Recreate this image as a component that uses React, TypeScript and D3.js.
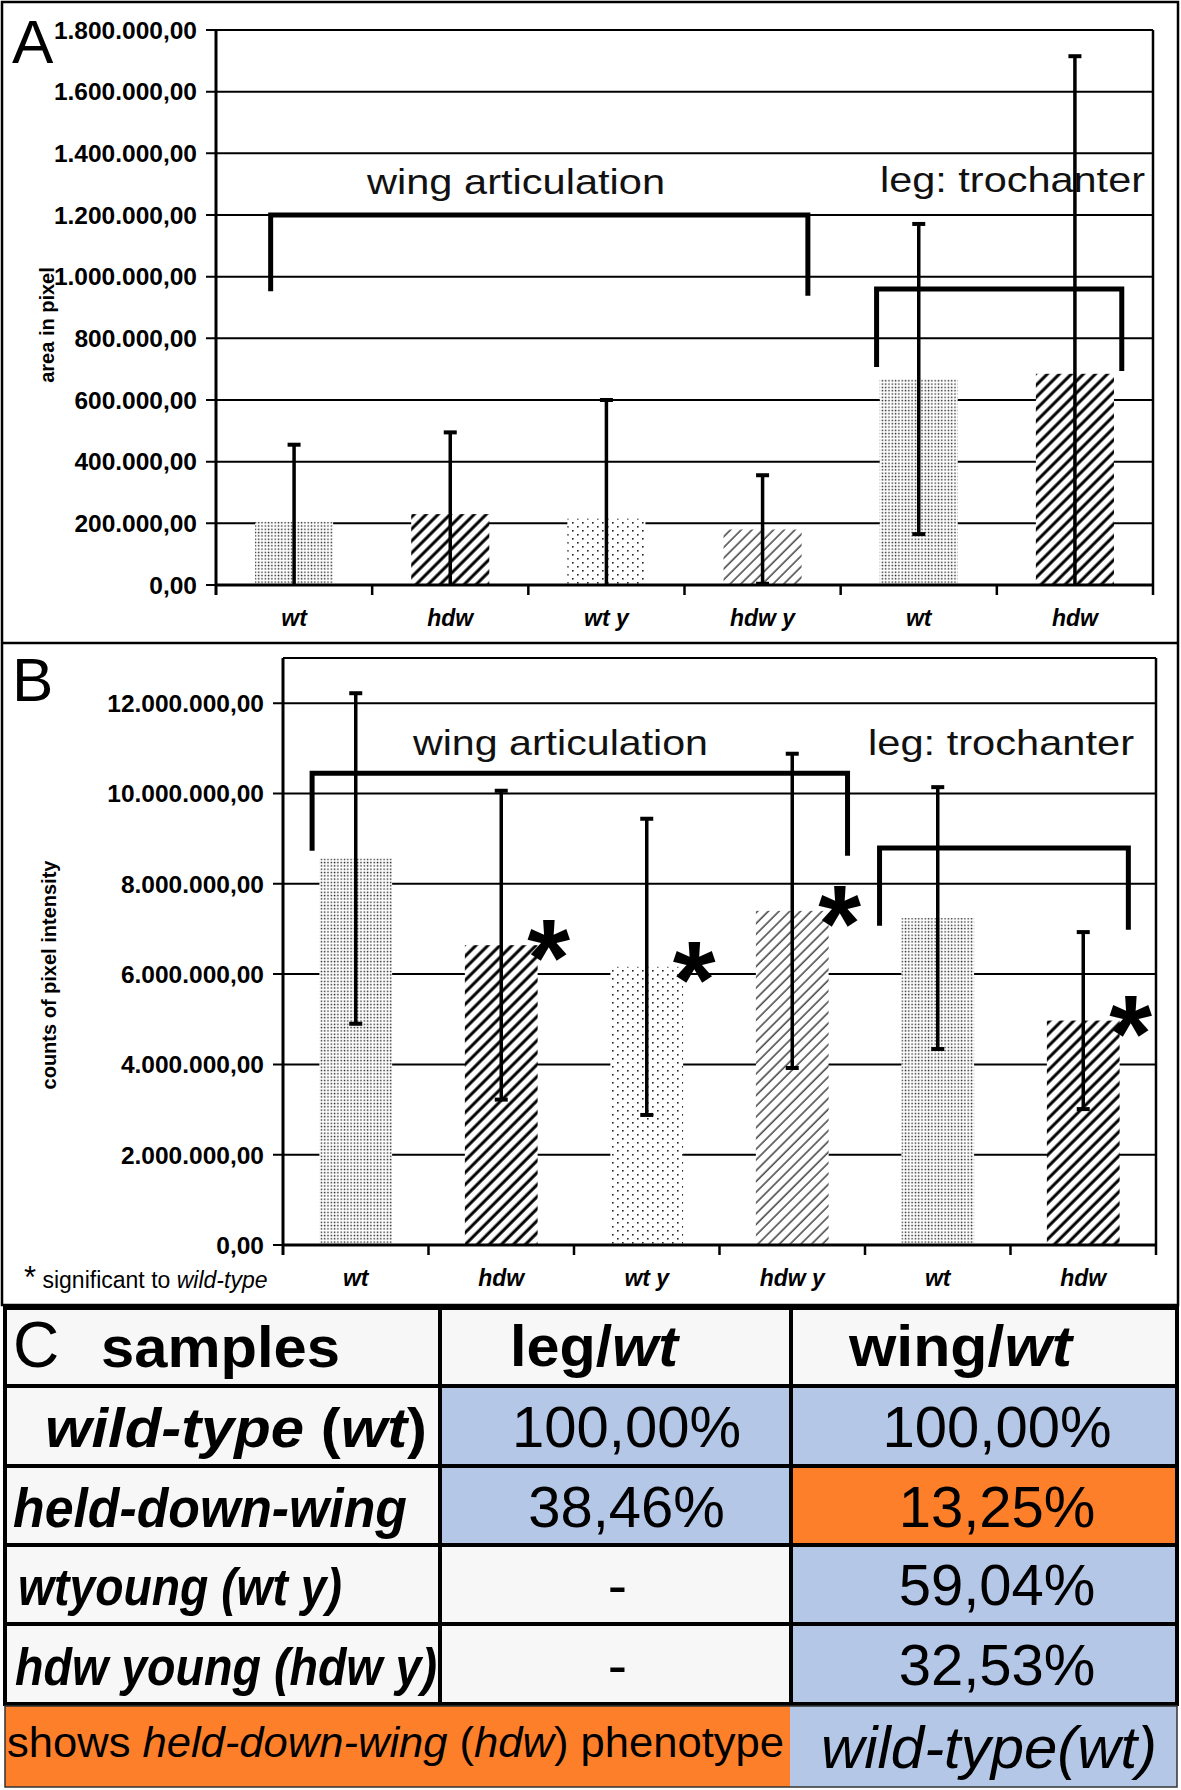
import React from 'react';
import * as d3 from 'd3';

// ---------- data ----------
const categories = ['wt', 'hdw', 'wt y', 'hdw y', 'wt', 'hdw'];
const fills = ['denseDots', 'thickHatch', 'sparseDots', 'thinHatch', 'denseDots', 'thickHatch'];

const areaMeans = [205000, 230000, 215000, 180000, 668000, 685000];
const areaErrors = [250000, 265000, 385000, 176000, 503000, 1030000];
const areaTicks = [0, 200000, 400000, 600000, 800000, 1000000, 1200000, 1400000, 1600000, 1800000];

const intensityMeans = [8560000, 6640000, 6160000, 7400000, 7240000, 4970000];
const intensityErrors = [3660000, 3420000, 3280000, 3480000, 2900000, 1960000];
const intensityTicks = [0, 2000000, 4000000, 6000000, 8000000, 10000000, 12000000];
const intensitySignificant = [false, true, true, true, false, true];

// brackets: x in category units (0..6), y in data units
const areaBrackets = [
  { label: 'wing articulation', x0: 0.35, x1: 3.79, top: 1200000, y0: 953000, y1: 938000 },
  { label: 'leg: trochanter', x0: 4.23, x1: 5.8, top: 960000, y0: 707000, y1: 694000 },
];
const intensityBrackets = [
  { label: 'wing articulation', x0: 0.2, x1: 3.88, top: 10450000, y0: 8730000, y1: 8620000 },
  { label: 'leg: trochanter', x0: 4.1, x1: 5.81, top: 8790000, y0: 7070000, y1: 6980000 },
];

const tableHeaders = ['samples', 'leg/wt', 'wing/wt'];
const sampleNames = ['wild-type (wt)', 'held-down-wing', 'wtyoung (wt y)', 'hdw young (hdw y)'];
const legRatios = ['100,00%', '38,46%', '-', '-'];
const wingRatios = ['100,00%', '13,25%', '59,04%', '32,53%'];
const legPhenotype = ['wt', 'wt', '', ''];
const wingPhenotype = ['wt', 'hdw', 'wt', 'wt'];
const legendHdw = ['shows ', 'held-down-wing', ' (', 'hdw', ') phenotype'];
const legendWt = 'wild-type(wt)';

// ---------- helpers ----------
const FONT = '"Liberation Sans", Arial, Helvetica, sans-serif';
const BLUE = '#b4c7e7';
const ORANGE = '#fd7f2a';
const GRAY = '#f7f7f7';

const locale = d3.formatLocale({ decimal: ',', thousands: '.', grouping: [3], currency: ['', ''] });
const fmt = locale.format(',.2f');

type Bracket = { label: string; x0: number; x1: number; top: number; y0: number; y1: number };

function BarPanel(props: {
  means: number[];
  errors: number[];
  ticks: number[];
  domainMax: number;
  left: number;
  right: number;
  zeroY: number;
  topY: number;
  labelY: number;
  title: string;
  titleX: number;
  titleY: number;
  brackets: Bracket[];
  bracketLabels: { x: number; w: number; y: number }[];
  significant?: boolean[];
}) {
  const { means, errors, ticks, domainMax, left, right, zeroY, topY } = props;
  const y = d3.scaleLinear().domain([0, domainMax]).range([zeroY, topY]);
  const x = d3
    .scaleBand<number>()
    .domain(d3.range(categories.length))
    .range([left, right])
    .paddingInner(0.5)
    .paddingOuter(0.25);
  const xi = d3.scaleLinear().domain([0, categories.length]).range([left, right]);
  const bw = x.bandwidth();
  const cap = 6.5;
  return (
    <g>
      {/* gridlines */}
      {ticks.map((t) => (
        <line key={'g' + t} x1={left - 10} x2={right} y1={y(t)} y2={y(t)} stroke="#000" strokeWidth={2} />
      ))}
      {/* bars */}
      {means.map((m, i) => (
        <rect key={'b' + i} x={x(i)} y={y(m)} width={bw} height={y(0) - y(m)} fill={`url(#${fills[i]})`} />
      ))}
      {/* plot border */}
      <line x1={left} x2={right} y1={topY} y2={topY} stroke="#000" strokeWidth={2} />
      <line x1={right} x2={right} y1={topY} y2={zeroY + 10} stroke="#000" strokeWidth={2.5} />
      {/* axes */}
      <line x1={left} x2={left} y1={topY} y2={zeroY + 10} stroke="#000" strokeWidth={3} />
      <line x1={left} x2={right} y1={zeroY} y2={zeroY} stroke="#000" strokeWidth={3} />
      {d3.range(1, categories.length).map((k) => (
        <line key={'xt' + k} x1={xi(k)} x2={xi(k)} y1={zeroY} y2={zeroY + 10} stroke="#000" strokeWidth={2.5} />
      ))}
      {/* tick labels */}
      {ticks.map((t) => (
        <text
          key={'tl' + t}
          x={left - 19}
          y={y(t)}
          dy="0.36em"
          textAnchor="end"
          fontFamily={FONT}
          fontWeight="bold"
          fontSize={24.5}
          fill="#000"
        >
          {fmt(t)}
        </text>
      ))}
      {categories.map((c, i) => (
        <text
          key={'cl' + i}
          x={(x(i) as number) + bw / 2}
          y={props.labelY}
          textAnchor="middle"
          fontFamily={FONT}
          fontWeight="bold"
          fontStyle="italic"
          fontSize={23}
        >
          {c}
        </text>
      ))}
      {/* y title */}
      <text
        transform={`translate(${props.titleX},${props.titleY}) rotate(-90)`}
        textAnchor="middle"
        fontFamily={FONT}
        fontWeight="bold"
        fontSize={20}
      >
        {props.title}
      </text>
      {/* bracket labels */}
      {props.brackets.map((b, k) => (
        <text
          key={'bl' + k}
          x={props.bracketLabels[k].x}
          y={props.bracketLabels[k].y}
          textLength={props.bracketLabels[k].w}
          lengthAdjust="spacingAndGlyphs"
          fontFamily={FONT}
          fontSize={35}
          fill="#111"
        >
          {b.label}
        </text>
      ))}
      {/* error bars */}
      {means.map((m, i) => {
        const cx = (x(i) as number) + bw / 2;
        const hi = m + errors[i];
        const lo = m - errors[i];
        return (
          <g key={'e' + i} stroke="#000">
            <line x1={cx} x2={cx} y1={y(hi)} y2={y(Math.max(0, lo))} strokeWidth={3.5} />
            <line x1={cx - cap} x2={cx + cap} y1={y(hi)} y2={y(hi)} strokeWidth={4} />
            {lo > 0 && <line x1={cx - cap} x2={cx + cap} y1={y(lo)} y2={y(lo)} strokeWidth={4} />}
          </g>
        );
      })}
      {/* brackets */}
      {props.brackets.map((b, k) => (
        <path
          key={'br' + k}
          d={`M${xi(b.x0)},${y(b.y0)} V${y(b.top)} H${xi(b.x1)} V${y(b.y1)}`}
          fill="none"
          stroke="#000"
          strokeWidth={5}
        />
      ))}
      {/* significance stars */}
      {props.significant &&
        props.significant.map((s, i) =>
          s ? (
            <text
              key={'s' + i}
              x={(x(i) as number) + bw + 11}
              y={y(means[i]) - 12 + 62}
              textAnchor="middle"
              fontFamily={FONT}
              fontWeight="bold"
              fontSize={110}
            >
              *
            </text>
          ) : null
        )}
    </g>
  );
}

type Seg = { t: string; i?: boolean };

function Rich(props: {
  x: number;
  y: number;
  segs: Seg[];
  size: number;
  bold?: boolean;
  w?: number;
  anchor?: string;
}) {
  return (
    <text
      x={props.x}
      y={props.y}
      fontFamily={FONT}
      fontSize={props.size}
      fontWeight={props.bold ? 'bold' : 'normal'}
      textAnchor={props.anchor || 'start'}
      textLength={props.w}
      lengthAdjust={props.w ? 'spacingAndGlyphs' : undefined}
      fill="#000"
    >
      {props.segs.map((s, k) => (
        <tspan key={k} fontStyle={s.i ? 'italic' : 'normal'}>
          {s.t}
        </tspan>
      ))}
    </text>
  );
}

function Table() {
  const cols = [5, 440, 791, 1177];
  const rows = [1308, 1386, 1466, 1545, 1624, 1704];
  const footTop = 1706;
  const footBottom = 1787;
  const footSplit = 790;
  const colour = (p: string) => (p === 'wt' ? BLUE : p === 'hdw' ? ORANGE : GRAY);

  const labelSegs: Seg[][] = [
    [{ t: 'wild-type', i: true }, { t: ' (' }, { t: 'wt', i: true }, { t: ')' }],
    [{ t: sampleNames[1], i: true }],
    [{ t: sampleNames[2], i: true }],
    [{ t: sampleNames[3], i: true }],
  ];
  const labelPos = [
    { x: 45, w: 382 },
    { x: 13, w: 394 },
    { x: 18, w: 324 },
    { x: 15, w: 422 },
  ];
  const baselines = [1447, 1527, 1605, 1685];

  const headerSeg = (h: string): Seg[] =>
    h.includes('/') ? [{ t: h.split('/')[0] + '/' }, { t: h.split('/')[1], i: true }] : [{ t: h }];

  return (
    <g>
      {/* cell backgrounds */}
      <rect x={cols[0]} y={rows[0]} width={cols[3] - cols[0]} height={rows[1] - rows[0]} fill={GRAY} />
      {sampleNames.map((_, r) => (
        <g key={'bg' + r}>
          <rect x={cols[0]} y={rows[r + 1]} width={cols[1] - cols[0]} height={rows[r + 2] - rows[r + 1]} fill={GRAY} />
          <rect
            x={cols[1]}
            y={rows[r + 1]}
            width={cols[2] - cols[1]}
            height={rows[r + 2] - rows[r + 1]}
            fill={colour(legPhenotype[r])}
          />
          <rect
            x={cols[2]}
            y={rows[r + 1]}
            width={cols[3] - cols[2]}
            height={rows[r + 2] - rows[r + 1]}
            fill={colour(wingPhenotype[r])}
          />
        </g>
      ))}
      {/* grid */}
      {rows.map((ry) => (
        <line key={'rl' + ry} x1={cols[0] - 2} x2={cols[3] + 2} y1={ry} y2={ry} stroke="#000" strokeWidth={4} />
      ))}
      {cols.map((cx) => (
        <line key={'cl' + cx} x1={cx} x2={cx} y1={rows[0]} y2={rows[rows.length - 1]} stroke="#000" strokeWidth={4} />
      ))}
      {/* footer */}
      <rect x={cols[0]} y={footTop} width={footSplit - cols[0]} height={footBottom - footTop} fill={ORANGE} />
      <rect x={footSplit} y={footTop} width={cols[3] - footSplit} height={footBottom - footTop} fill={BLUE} />
      <rect
        x={cols[0]}
        y={footTop}
        width={cols[3] - cols[0]}
        height={footBottom - footTop}
        fill="none"
        stroke="#333"
        strokeWidth={1.5}
      />
      {/* header */}
      <text x={13} y={1367} fontFamily={FONT} fontSize={64} fill="#000">
        C
      </text>
      <Rich x={101} y={1367} segs={headerSeg(tableHeaders[0])} size={58} bold w={239} />
      <Rich x={510} y={1366} segs={headerSeg(tableHeaders[1])} size={58} bold w={168} />
      <Rich x={849} y={1366} segs={headerSeg(tableHeaders[2])} size={58} bold w={223} />
      {/* rows */}
      {sampleNames.map((_, r) => (
        <g key={'row' + r}>
          <Rich x={labelPos[r].x} y={baselines[r]} segs={labelSegs[r]} size={r < 2 ? 55 : 51} bold w={labelPos[r].w} />
          <Rich
            x={legRatios[r] === '-' ? (cols[1] + cols[2]) / 2 + 2 : (cols[1] + cols[2]) / 2 + 11}
            y={baselines[r]}
            segs={[{ t: legRatios[r] }]}
            size={58}
            anchor="middle"
          />
          <Rich x={(cols[2] + cols[3]) / 2 + 13} y={baselines[r]} segs={[{ t: wingRatios[r] }]} size={58} anchor="middle" />
        </g>
      ))}
      {/* footer text */}
      <Rich
        x={7}
        y={1757}
        segs={legendHdw.map((t, k) => ({ t, i: k % 2 === 1 }))}
        size={42}
        w={777}
      />
      <Rich x={821} y={1768} segs={[{ t: legendWt, i: true }]} size={60} w={336} />
    </g>
  );
}

export default function App() {
  return (
    <svg
      width={1181}
      height={1790}
      viewBox="0 0 1181 1790"
      style={{ position: 'absolute', left: 0, top: 0, background: '#fff' }}
    >
      <defs>
        <pattern id="denseDots" width="3.3" height="3.3" patternUnits="userSpaceOnUse">
          <rect width="3.3" height="3.3" fill="#fff" />
          <rect x="0.6" y="0.6" width="1.4" height="1.4" fill="#1a1a1a" />
        </pattern>
        <pattern id="sparseDots" width="10" height="8" patternUnits="userSpaceOnUse">
          <rect width="10" height="8" fill="#fff" />
          <rect x="2" y="2" width="1.6" height="1.6" fill="#222" />
          <rect x="7" y="6" width="1.6" height="1.6" fill="#222" />
        </pattern>
        <pattern id="thickHatch" width="8.5" height="8.5" patternUnits="userSpaceOnUse" patternTransform="rotate(45)">
          <rect width="8.5" height="8.5" fill="#fff" />
          <line x1="2" y1="0" x2="2" y2="8.5" stroke="#000" strokeWidth="3" />
        </pattern>
        <pattern id="thinHatch" width="7.6" height="7.6" patternUnits="userSpaceOnUse" patternTransform="rotate(45)">
          <rect width="7.6" height="7.6" fill="#fff" />
          <line x1="2" y1="0" x2="2" y2="7.6" stroke="#111" strokeWidth="1.2" />
        </pattern>
      </defs>
      <rect x={0} y={0} width={1181} height={1790} fill="#fff" />

      {/* panel frames */}
      <rect x={2} y={2} width={1176} height={1303} fill="none" stroke="#000" strokeWidth={2.5} />
      <line x1={2} x2={1178} y1={643} y2={643} stroke="#000" strokeWidth={2.5} />

      {/* Panel A */}
      <text x={12} y={63} fontFamily={FONT} fontSize={62}>
        A
      </text>
      <BarPanel
        means={areaMeans}
        errors={areaErrors}
        ticks={areaTicks}
        domainMax={1800000}
        left={216}
        right={1153}
        zeroY={585}
        topY={30}
        labelY={626}
        title="area in pixel"
        titleX={54}
        titleY={325}
        brackets={areaBrackets}
        bracketLabels={[
          { x: 367, w: 298, y: 194 },
          { x: 880, w: 265, y: 192 },
        ]}
      />

      {/* Panel B */}
      <text x={12} y={701} fontFamily={FONT} fontSize={62}>
        B
      </text>
      <BarPanel
        means={intensityMeans}
        errors={intensityErrors}
        ticks={intensityTicks}
        domainMax={13000000}
        left={283}
        right={1156}
        zeroY={1245}
        topY={658}
        labelY={1286}
        title="counts of pixel intensity"
        titleX={56}
        titleY={975}
        brackets={intensityBrackets}
        bracketLabels={[
          { x: 413, w: 295, y: 755 },
          { x: 868, w: 266, y: 755 },
        ]}
        significant={intensitySignificant}
      />
      <text x={24} y={1288} fontFamily={FONT} fontSize={23}>
        <tspan fontSize={31}>*</tspan>
        <tspan> significant to </tspan>
        <tspan fontStyle="italic">wild-type</tspan>
      </text>

      {/* Panel C */}
      <Table />
    </svg>
  );
}
